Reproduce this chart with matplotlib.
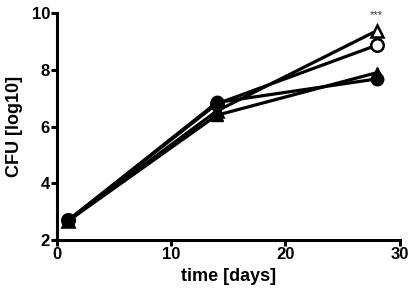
import matplotlib
matplotlib.use("Agg")
import matplotlib.pyplot as plt

days = [1, 14, 28]
filled_circle = [2.7, 6.85, 7.68]
open_circle = [2.7, 6.8, 8.87]
filled_triangle = [2.68, 6.4, 7.9]
open_triangle = [2.68, 6.55, 9.38]

plt.rcParams['font.family'] = ['Liberation Sans', 'DejaVu Sans']

fig = plt.figure(figsize=(4.12, 2.91), dpi=100)
ax = fig.add_axes([0.138, 0.175, 0.832, 0.78])

lw = 2.3
ax.plot(days, open_triangle, color="black", lw=lw, marker="^", ms=9, mfc="white", mew=1.8, clip_on=False, zorder=3)
ax.plot(days, open_circle, color="black", lw=lw, marker="o", ms=9, mfc="white", mew=1.8, clip_on=False, zorder=3)
ax.plot(days, filled_triangle, color="black", lw=lw, marker="^", ms=9, clip_on=False, zorder=4)
ax.plot(days, filled_circle, color="black", lw=lw, marker="o", ms=9, clip_on=False, zorder=4)

ax.text(28, 9.75, "***", ha="center", va="bottom", fontsize=8, color="#333333")

ax.set_xlim(0, 30)
ax.set_ylim(2, 10)
ax.set_xticks([0, 10, 20, 30])
ax.set_yticks([2, 4, 6, 8, 10])
for s in ["top", "right"]:
    ax.spines[s].set_visible(False)
for s in ["left", "bottom"]:
    ax.spines[s].set_linewidth(2.2)
ax.tick_params(width=2.2, length=4, labelsize=12, pad=1)
for t in ax.get_xticklabels() + ax.get_yticklabels():
    t.set_fontweight("bold")

ax.set_xlabel("time [days]", fontsize=13, fontweight="bold", labelpad=4)
ax.set_ylabel("CFU [log10]", fontsize=13, fontweight="bold", labelpad=6)

fig.savefig("out.png", dpi=100)
